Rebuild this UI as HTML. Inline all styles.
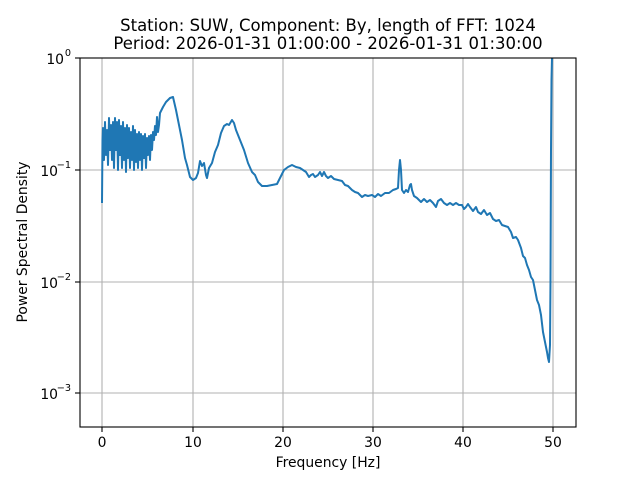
<!DOCTYPE html>
<html><head><style>body{margin:0;background:#fff}svg{display:block}text{font-family:"DejaVu Sans","Liberation Sans",sans-serif;fill:#000}</style></head><body>
<svg width="640" height="480" viewBox="0 0 640 480">
<rect width="640" height="480" fill="#fff"/>
<g stroke="#b0b0b0" stroke-width="1.1">
<line x1="102" y1="58" x2="102" y2="427"/><line x1="193" y1="58" x2="193" y2="427"/><line x1="283" y1="58" x2="283" y2="427"/><line x1="373" y1="58" x2="373" y2="427"/><line x1="463" y1="58" x2="463" y2="427"/><line x1="553" y1="58" x2="553" y2="427"/>
<line x1="80" y1="58" x2="576" y2="58"/><line x1="80" y1="170" x2="576" y2="170"/><line x1="80" y1="282" x2="576" y2="282"/><line x1="80" y1="393" x2="576" y2="393"/>
</g>
<clipPath id="c"><rect x="80" y="58" width="496" height="369"/></clipPath>
<polyline clip-path="url(#c)" fill="none" stroke="#1f77b4" stroke-width="2" stroke-linejoin="round" points="102,203 102.5,140 103,128 104,160 105,122 106,155 107,130 108,165 109,118 110,150 111,125 112,160 113,122 114,168 115,118 116,150 117,122 118,170 119,120 120,155 121,126 122,168 123,122 124,160 125,128 126,172 127,125 128,158 129,128 130,168 131,132 132,160 133,126 134,170 135,130 136,162 137,134 138,168 139,132 140,160 141,134 142,170 143,136 144,158 145,134 146,168 147,138 148,155 149,136 150,160 151,135 152,150 153,132 154,140 155,126 156,135 157,117 158,132 159,125 160,113 163,107 166,102 170,98 173,97 176,110 179,125 182,140 185,158 187,165 190,177 193,180 196,178 198,173 200,161 202,166 204,163 206,175 207,178 209,168 212,163 215,152 218,145 221,133 224,126 227,124 229,125 232,120 234,123 236,130 240,140 244,150 248,163 252,172 255,175 258,182 262,186 267,186 272,185 277,184 280,178 284,170 288,167 292,165 296,167 300,168 303,170 306,172 309,177 311,175 313,174 315,177 318,175 320,172 322,176 324,172 326,176 328,178 331,176 334,179 338,180 342,181 345,185 348,186 352,190 355,192 358,193 362,197 365,195 368,196 372,195 375,197 378,194 381,196 385,193 389,193 393,190 396,189 398,188 399,170 400,160 401,170 402,190 404,193 406,190 408,192 410,185 411,184 412,190 414,196 417,198 421,202 424,199 427,202 430,200 433,203 436,207 438,201 441,199 444,203 447,205 450,203 453,205 456,203 459,205 462,205 464,209 466,207 468,204 470,207 473,211 476,207 478,212 481,214 484,210 487,215 490,213 493,219 496,221 499,220 502,225 505,226 508,227 511,232 513,238 516,237 518,240 521,248 523,256 525,258 527,265 529,270 531,277 533,280 535,290 537,300 539,305 541,315 543,332 545,342 547,352 548,358 549,362 550,345 550.5,280 551,150 551.5,80 552,58 553,40"/>
<rect x="80" y="58" width="496" height="369" fill="none" stroke="#000" stroke-width="1.1"/>
<g stroke="#000" stroke-width="1.1">
<line x1="102" y1="427" x2="102" y2="432"/><line x1="193" y1="427" x2="193" y2="432"/><line x1="283" y1="427" x2="283" y2="432"/><line x1="373" y1="427" x2="373" y2="432"/><line x1="463" y1="427" x2="463" y2="432"/><line x1="553" y1="427" x2="553" y2="432"/>
<line x1="75" y1="58" x2="80" y2="58"/><line x1="75" y1="170" x2="80" y2="170"/><line x1="75" y1="282" x2="80" y2="282"/><line x1="75" y1="393" x2="80" y2="393"/>
</g>
<g font-size="13.9" text-anchor="middle">
<text x="102" y="447">0</text><text x="193" y="447">10</text><text x="283" y="447">20</text><text x="373" y="447">30</text><text x="463" y="447">40</text><text x="553" y="447">50</text>
</g>
<g font-size="13.9" text-anchor="end">
<text x="64" y="64">10</text><text x="71" y="56" font-size="9.7">0</text>
<text x="58" y="176">10</text><text x="71" y="168" font-size="9.7">−1</text>
<text x="58" y="288">10</text><text x="71" y="280" font-size="9.7">−2</text>
<text x="58" y="399">10</text><text x="71" y="391" font-size="9.7">−3</text>
</g>
<text x="328" y="467" font-size="13.9" text-anchor="middle">Frequency [Hz]</text>
<text transform="translate(27,242) rotate(-90)" font-size="13.9" text-anchor="middle">Power Spectral Density</text>
<text x="328" y="31" font-size="16.5" text-anchor="middle">Station: SUW, Component: By, length of FFT: 1024</text>
<text x="328" y="49" font-size="16.5" text-anchor="middle">Period: 2026-01-31 01:00:00 - 2026-01-31 01:30:00</text>
</svg>
</body></html>
